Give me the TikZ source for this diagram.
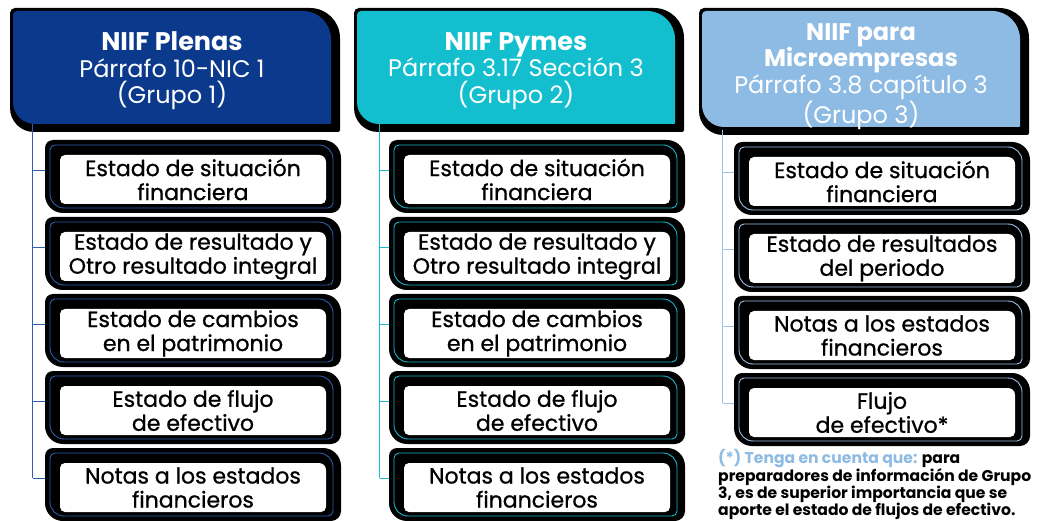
\documentclass[tikz,border=0pt]{standalone}
\usepackage{fontspec}
\setmainfont{Poppins}
\newfontfamily\boxfont{Poppins}[FakeBold=0.9]
\usetikzlibrary{calc}
\definecolor{c1}{HTML}{0B3A8C}
\definecolor{c2}{HTML}{13BFCF}
\definecolor{c3}{HTML}{8EBBE3}
\definecolor{l1}{HTML}{2F5FAE}
\definecolor{l2}{HTML}{1AB8CC}
\definecolor{l3}{HTML}{9EC2E8}
\newcommand{\hb}[1]{{\bfseries #1}}
% #1 opts, #2 x0, #3 ytop, #4 x1, #5 ybot, #6 TL, #7 TR, #8 BR, #9 BL  (pixel coords, y down)
\newcommand{\rbox}[9]{%
  \path[#1] ({(#2)+(#6)},{-(#3)}) -- ({(#4)-(#7)},{-(#3)})
    arc[start angle=90,end angle=0,radius=#7pt]
    -- ({#4},{-(#5)+(#8)}) arc[start angle=0,end angle=-90,radius=#8pt]
    -- ({(#2)+(#9)},{-(#5)}) arc[start angle=270,end angle=180,radius=#9pt]
    -- ({#2},{-(#3)-(#6)}) arc[start angle=180,end angle=90,radius=#6pt] -- cycle;}
% header: #1 x0, #2 ybot of coloured part, #3 name, #4 colour, #5 text y-centre, #6 text
\newcommand{\header}[6]{%
  \rbox{fill=black}{#1}{8}{(#1)+330}{(#2)+8}{5}{30}{2}{24}
  \rbox{fill=#4}{(#1)+3}{11}{(#1)+321}{#2}{4}{28}{1}{22}
  \node[hdr,minimum height={2*((#2)-(#5))}] (#3) at ({(#1)+162},{-(#5)}) {#6};}
% child: #1 x0, #2 ytop, #3 name, #4 line colour, #5 text
\newcommand{\child}[5]{%
  \rbox{fill=black}{(#1)+35}{#2}{(#1)+331}{(#2)+73}{8}{18}{10}{18}
  \rbox{draw=#4,line width=0.9pt}{(#1)+40}{(#2)+5}{(#1)+323}{(#2)+68}{5}{14}{5}{14}
  \rbox{fill=white}{(#1)+50}{(#2)+15}{(#1)+316}{(#2)+64}{5}{7}{5}{5}
  \node[boxtext] (#3) at ({(#1)+183},{-((#2)+39.5)}) {#5};
  \coordinate (#3t) at ($(#3.west)+(0,9.5)$);}
\begin{document}
\begin{tikzpicture}[x=1pt,y=1pt,
  hdr/.style={align=center,text=white,inner sep=0pt,minimum width=318pt,
    font=\fontsize{24}{26.5}\selectfont},
  boxtext/.style={align=center,text=black,inner sep=0pt,minimum width=296pt,
    minimum height=73pt,font=\boxfont\fontsize{22}{24}\selectfont},
  conn/.style={draw=#1,line width=0.9pt}]
\useasboundingbox (0,0) rectangle (1044,-521);
\fill[white] (0,0) rectangle (1044,-521);

% column 1
\header{10}{124}{h1}{c1}{71}{\hb{\fontsize{25.5}{26.5}\selectfont NIIF Plenas}\\Párrafo 10-NIC 1\\(Grupo 1)}
\child{10}{140}{a1}{l1}{Estado de situación\\financiera}
\child{10}{217}{a2}{l1}{Estado de resultado y\\Otro resultado integral}
\child{10}{294}{a3}{l1}{Estado de cambios\\en el patrimonio}
\child{10}{371}{a4}{l1}{Estado de flujo\\de efectivo}
\child{10}{448}{a5}{l1}{Notas a los estados\\financieros}
\coordinate (v1) at ($(h1.south west)+(20,0)$);
\draw[conn=l1] (v1) -- (a5t -| v1);
\foreach \i in {1,...,5} \draw[conn=l1] (a\i t -| v1) -- (a\i t);

% column 2
\header{354}{124}{h2}{c2}{71}{\hb{\fontsize{25.5}{26.5}\selectfont NIIF Pymes}\\Párrafo 3.17 Sección 3\\(Grupo 2)}
\child{354}{140}{b1}{l2}{Estado de situación\\financiera}
\child{354}{217}{b2}{l2}{Estado de resultado y\\Otro resultado integral}
\child{354}{294}{b3}{l2}{Estado de cambios\\en el patrimonio}
\child{354}{371}{b4}{l2}{Estado de flujo\\de efectivo}
\child{354}{448}{b5}{l2}{Notas a los estados\\financieros}
\coordinate (v2) at ($(h2.south west)+(23,0)$);
\draw[conn=l2] (v2) -- (b5t -| v2);
\foreach \i in {1,...,5} \draw[conn=l2] (b\i t -| v2) -- (b\i t);

% column 3
\header{699}{127}{h3}{c3}{76.5}{\fontsize{24}{24.5}\selectfont\hb{NIIF para}\\\hb{Microempresas}\\Párrafo 3.8 capítulo 3\\(Grupo 3)}
\child{699}{142}{d1}{l3}{Estado de situación\\financiera}
\child{699}{219}{d2}{l3}{Estado de resultados\\del periodo}
\child{699}{296}{d3}{l3}{Notas a los estados\\financieros}
\child{699}{373}{d4}{l3}{Flujo\\de efectivo*}
\coordinate (v3) at ($(h3.south west)+(21,0)$);
\draw[conn=l3] (v3) -- (d4t -| v3);
\foreach \i in {1,...,4} \draw[conn=l3] (d\i t -| v3) -- (d\i t);

\node[anchor=north west,align=left,inner sep=0pt,
  font=\bfseries\fontsize{15.6}{17}\selectfont] (note) at (718,-449)
  {\textcolor{c3}{(*) Tenga en cuenta que:} para\\
   preparadores de información de Grupo\\
   3, es de superior importancia que se\\
   aporte el estado de flujos de efectivo.};
\end{tikzpicture}
\end{document}
